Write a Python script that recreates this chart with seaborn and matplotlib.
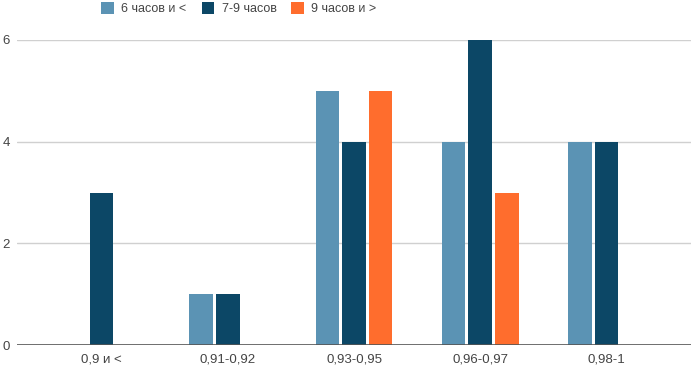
import numpy as np
import pandas as pd
import seaborn as sns
import matplotlib.pyplot as plt

#------------------------------------------------------------------------------#
# data
categories = ['0,9 и <', '0,91-0,92', '0,93-0,95', '0,96-0,97', '0,98-1']
series     = ['6 часов и <', '7-9 часов', '9 часов и >']
sleep_6    = [0, 1, 5, 4, 4]
sleep_7_9  = [3, 1, 4, 6, 4]
sleep_9    = [0, 0, 5, 3, 0]
y_ticks    = [0, 2, 4, 6]

colors = ['#5b93b4', '#0c4766', '#ff6d2d']
#------------------------------------------------------------------------------#

def main():

    rows = []
    for name, vals in zip(series, [sleep_6, sleep_7_9, sleep_9]):
        for cat, v in zip(categories, vals):
            rows.append({'cat': cat, 'series': name, 'count': v})
    DF = pd.DataFrame(rows)

    sns.set_theme(style='white')
    plt.rcParams['font.family'] = ['Liberation Sans', 'DejaVu Sans']

    fig = plt.figure(figsize=(6.91, 3.68), dpi=100)
    ax = fig.add_axes([17/691, 23/368, 1 - 17/691, (345 - 40)/368])

    sns.barplot(data=DF, x='cat', y='count', hue='series', hue_order=series,
                order=categories, palette=colors, width=0.633, gap=0.12,
                linewidth=0, saturation=1, ax=ax, legend=True)

    ax.set_xlim(-0.67, 4.67)
    ax.set_ylim(0, 6)
    ax.set_yticks(y_ticks)
    ax.set_xlabel('')
    ax.set_ylabel('')

    for y in y_ticks[1:]:
        ax.axhline(y, color='#d0d0d0', lw=1, zorder=0)
    ax.axhline(0, color='#555555', lw=1.2, zorder=3)
    for s in ax.spines.values():
        s.set_visible(False)

    ax.tick_params(axis='y', length=0, pad=5, labelsize=9.5, labelcolor='#444444')
    ax.tick_params(axis='x', length=0, pad=6, labelsize=9.5, labelcolor='#444444')

    handles, labels = ax.get_legend_handles_labels()
    ax.get_legend().remove()
    fig.legend(handles, labels, loc='upper center', bbox_to_anchor=(239/691, 1.025),
               ncol=3, frameon=False, fontsize=9, handlelength=1.0,
               handleheight=1.1, columnspacing=1.2, handletextpad=0.6,
               labelcolor='#444444')

    plt.savefig('out.png', dpi=100)

if __name__ == '__main__':
    main()
